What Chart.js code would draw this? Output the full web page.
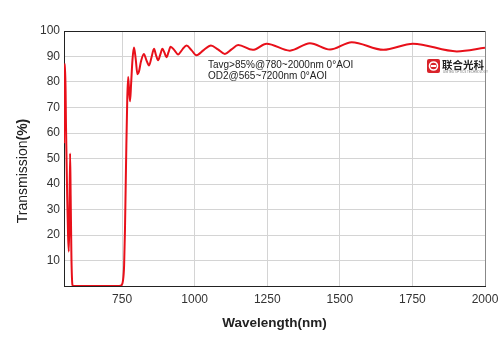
<!doctype html>
<html lang="zh">
<head>
<meta charset="utf-8">
<title>Transmission chart</title>
<script src="https://cdn.jsdelivr.net/npm/chart.js@4.4.1/dist/chart.umd.min.js"></script>
<style>
  body { margin: 0; background: #fff; }
</style>
</head>
<body>
<canvas id="chart" width="500" height="353"></canvas>
<script>
// wavelength (nm) and transmission (%)
var wavelengths = [550, 551.5, 554, 557, 561, 564, 566.5, 568.5, 571, 573, 575.5, 577.5, 579.5, 585,
  740, 748, 753, 757, 760, 764, 768, 771, 774.5, 777.5, 781, 786, 791, 797, 803, 808, 815,
  825, 834, 843, 851, 860, 867, 874, 881, 889, 896, 903, 910, 917, 930, 943, 958, 972, 989,
  1006, 1031, 1056, 1080, 1104, 1127, 1150, 1200, 1248, 1328, 1397, 1466, 1541, 1650, 1752,
  1903, 2000];
var transmission = [56, 87, 87, 62, 35, 20, 13.5, 25, 52, 35, 12, 3, 0.3, 0,
  0, 0.3, 2, 8, 22, 50, 74, 82, 76, 72.5, 79, 89, 93.5, 89, 83, 84, 88,
  91, 88.5, 86.5, 89.5, 93, 90.5, 88.5, 90.5, 93, 91.5, 89.7, 91.7, 93.8, 92.5, 90.8, 92.8, 94.3, 92.5,
  90.5, 92.5, 94.3, 92.8, 91, 92.8, 94.5, 92.6, 95, 92.3, 95.2, 92.7, 95.6, 92.6, 95,
  92, 93.4];
var xTicks = [750, 1000, 1250, 1500, 1750, 2000];
var noteLines = ['Tavg>85%@780~2000nm 0°AOI', 'OD2@565~7200nm 0°AOI'];

var points = wavelengths.map(function (w, i) { return { x: w, y: transmission[i] }; });

// annotation text, logo and the mixed-weight y title
var extras = {
  id: 'extras',
  afterDraw: function (chart) {
    var ctx = chart.ctx;
    ctx.save();
    ctx.fillStyle = '#222';
    ctx.font = '10px "Liberation Sans", Arial, sans-serif';
    ctx.textBaseline = 'middle';
    ctx.textAlign = 'left';
    ctx.fillText(noteLines[0], 208, 65);
    ctx.fillText(noteLines[1], 208, 76);

    // logo
    ctx.fillStyle = '#d9232a';
    ctx.beginPath();
    ctx.roundRect(427, 59, 13, 14, 2);
    ctx.fill();
    ctx.strokeStyle = '#fff';
    ctx.lineWidth = 1.6;
    ctx.beginPath();
    ctx.arc(433.5, 66, 4, 0, Math.PI * 2);
    ctx.stroke();
    ctx.fillStyle = '#fff';
    ctx.fillRect(431, 65, 5, 2);
    ctx.fillStyle = '#222';
    ctx.font = 'bold 10.5px "Noto Sans CJK SC", sans-serif';
    ctx.fillText('联合光科', 442, 65);
    ctx.fillStyle = '#777';
    ctx.font = '3px "Liberation Sans", sans-serif';
    ctx.fillText('UNITED OPTICS TECHNOLOGY', 443, 72.5);

    // y title
    ctx.translate(23, 171);
    ctx.rotate(-Math.PI / 2);
    ctx.fillStyle = '#222';
    var a = 'Transmission', b = '(%)';
    ctx.font = '14px "Liberation Sans", Arial, sans-serif';
    var wa = ctx.measureText(a).width;
    ctx.font = 'bold 14px "Liberation Sans", Arial, sans-serif';
    var wb = ctx.measureText(b).width;
    var start = -(wa + wb) / 2;
    ctx.font = '14px "Liberation Sans", Arial, sans-serif';
    ctx.fillText(a, start, 0);
    ctx.font = 'bold 14px "Liberation Sans", Arial, sans-serif';
    ctx.fillText(b, start + wa, 0);
    ctx.restore();
  }
};

new Chart(document.getElementById('chart'), {
  type: 'line',
  data: {
    datasets: [{
      data: points,
      borderColor: '#e8101a',
      borderWidth: 2,
      pointRadius: 0,
      fill: false,
      cubicInterpolationMode: 'monotone'
    }]
  },
  options: {
    responsive: false,
    animation: false,
    layout: { padding: { left: 0, right: 15, top: 31, bottom: 22 } },
    plugins: { legend: { display: false }, tooltip: { enabled: false } },
    scales: {
      x: {
        type: 'linear',
        min: 550,
        max: 2000,
        afterBuildTicks: function (s) { s.ticks = xTicks.map(function (v) { return { value: v }; }); },
        afterFit: function (s) { s.height = 45; s.paddingRight = 0; s.paddingLeft = 0; },
        grid: {
          drawTicks: false,
          color: function (c) { return c.tick && c.tick.value === 2000 ? '#888' : '#d4d4d4'; },
          lineWidth: 1
        },
        border: { color: '#222', width: 1 },
        ticks: {
          padding: 6,
          color: '#333',
          font: { family: '"Liberation Sans", Arial, sans-serif', size: 12 },
          maxRotation: 0,
          callback: function (v) { return String(v); }
        },
        title: {
          display: true,
          text: 'Wavelength(nm)',
          color: '#222',
          font: { family: '"Liberation Sans", Arial, sans-serif', size: 13.5, weight: 'bold' },
          padding: { top: 6, bottom: 0 }
        }
      },
      y: {
        min: 0,
        max: 100,
        afterFit: function (s) { s.width = 64; s.paddingTop = 0; s.paddingBottom = 0; },
        grid: {
          drawTicks: false,
          color: function (c) { return c.tick && c.tick.value === 100 ? '#222' : '#d4d4d4'; }
        },
        border: { color: '#222', width: 1 },
        ticks: {
          stepSize: 10,
          padding: 4,
          color: '#333',
          font: { family: '"Liberation Sans", Arial, sans-serif', size: 12 },
          callback: function (v) { return v === 0 ? '' : v; }
        }
      }
    }
  },
  plugins: [extras]
});
</script>
</body>
</html>
